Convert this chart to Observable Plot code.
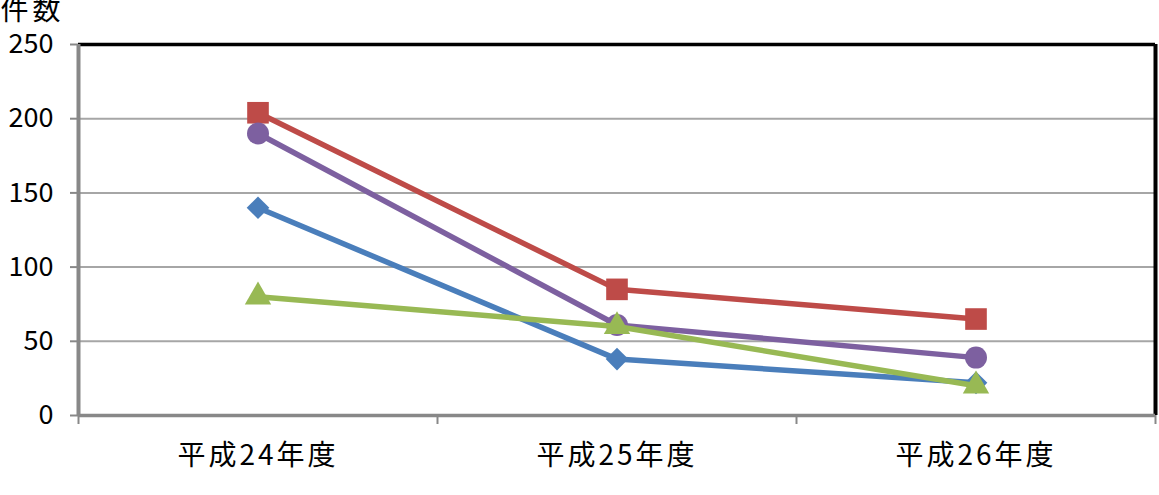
<!DOCTYPE html>
<html><head><meta charset="utf-8">
<script src="https://cdn.jsdelivr.net/npm/d3@7"></script>
<script src="https://cdn.jsdelivr.net/npm/@observablehq/plot@0.6"></script>
<style>body{margin:0;background:#fff;overflow:hidden;} svg{overflow:hidden}</style>
</head><body><div id="chart"></div>
<script>
const categories = ["平成24年度", "平成25年度", "平成26年度"];
const seriesNames = ["系列1", "系列2", "系列3", "系列4"];
const series1Values = [140, 38, 22];   // blue, diamond
const series2Values = [204, 85, 65];   // red, square
const series4Values = [190, 61, 39];   // purple, circle
const series3Values = [80, 60, 20];    // green, triangle
const yTicks = [0, 50, 100, 150, 200, 250];
const yLabel = "件数";

const seriesDefs = [
  {name: seriesNames[0], values: series1Values, color: "#4A7EBB", symbol: "diamond2", r: 10.2},
  {name: seriesNames[1], values: series2Values, color: "#BE4B48", symbol: "square", r: 12.2},
  {name: seriesNames[3], values: series4Values, color: "#7D60A0", symbol: "circle", r: 11},
  {name: seriesNames[2], values: series3Values, color: "#98B954", symbol: "triangle", r: 9.8}
];

const catPos = categories.map((c, i) => i + 0.5);
const bounds = d3.range(categories.length + 1);

const marks = [
  Plot.gridY(yTicks.slice(1, -1), {stroke: "#a6a6a6", strokeOpacity: 1, strokeWidth: 2}),
  Plot.ruleY([yTicks[yTicks.length - 1]], {stroke: "#000", strokeWidth: 3.5}),
  Plot.ruleX([categories.length], {stroke: "#000", strokeWidth: 4}),
  Plot.axisY({ticks: yTicks, tickSize: 8, tickPadding: 17, stroke: "#888", strokeWidth: 2, fontSize: 27, fill: "#000", label: null}),
  Plot.axisX({ticks: bounds, tickSize: 9, tickFormat: () => "", stroke: "#888", strokeWidth: 2, label: null}),
  Plot.axisX({ticks: catPos, tickSize: 0, tickPadding: 30, tickFormat: (d) => categories[Math.round(d - 0.5)], fontSize: 28, fill: "#000", label: null}),
  Plot.ruleX([0], {stroke: "#888", strokeWidth: 4}),
  Plot.ruleY([0], {stroke: "#888", strokeWidth: 3.5}),
  Plot.text([yLabel], {frameAnchor: "top-left", dx: -78, dy: -25, text: d => d, textAnchor: "start", lineAnchor: "bottom", fontSize: 28, fill: "#000"})
];

for (const s of seriesDefs) {
  const data = s.values.map((v, i) => ({series: s.name, x: catPos[i], y: v}));
  marks.push(Plot.line(data, {x: "x", y: "y", stroke: s.color, strokeWidth: 5.5, strokeLinejoin: "round"}));
  marks.push(Plot.dot(data, {x: "x", y: "y", symbol: () => s.symbol, r: s.r, fill: s.color, stroke: "none"}));
}

const chart = Plot.plot({
  width: 1159,
  height: 495,
  marginLeft: 78,
  marginRight: 4,
  marginTop: 44,
  marginBottom: 80,
  style: {fontFamily: "'Noto Sans CJK JP', sans-serif", background: "#fff", color: "#000"},
  x: {domain: [0, categories.length], axis: null},
  y: {domain: [0, 250], axis: null},
  symbol: {type: "identity"},
  marks
});
d3.select(chart).selectAll("text").filter(function() { return categories.includes(this.textContent); })
  .style("letter-spacing", "3px");
d3.select(chart).selectAll("text").filter(function() { return this.textContent === yLabel; })
  .style("letter-spacing", "4px");
document.getElementById("chart").appendChild(chart);
</script>
</body></html>
